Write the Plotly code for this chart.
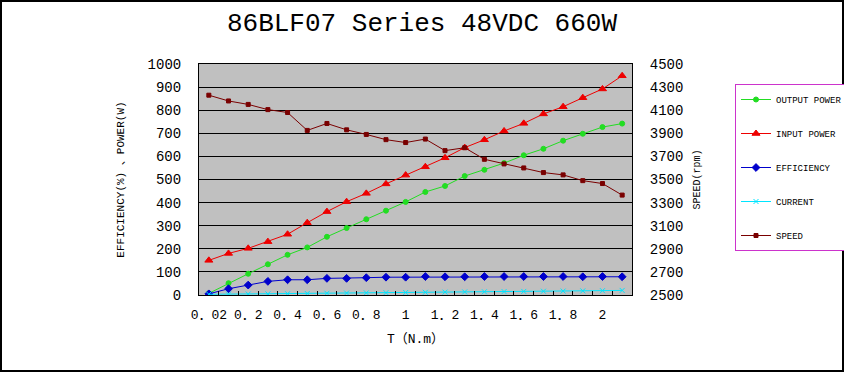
import plotly.graph_objects as go

torque = ["0.02", "0.1", "0.2", "0.3", "0.4", "0.5", "0.6", "0.7", "0.8", "0.9", "1.0",
          "1.1", "1.2", "1.3", "1.4", "1.5", "1.6", "1.7", "1.8", "1.9", "2.0", "2.1"]
tick_text = ["0．02", "", "0．2", "", "0．4", "", "0．6", "", "0．8", "", "1",
             "", "1．2", "", "1．4", "", "1．6", "", "1．8", "", "2", ""]
output_power = [7, 51, 92, 133, 174, 206, 252, 290, 328, 365, 403,
                446, 472, 515, 542, 571, 605, 633, 668, 698, 727, 742]
input_power = [150, 180, 202, 231, 263, 313, 361, 404, 440, 481, 519,
               555, 594, 638, 672, 710, 743, 784, 815, 854, 892, 949]
efficiency = [5, 27, 43, 59, 66, 66, 72, 72, 75, 77, 77,
              80, 79, 79, 80, 80, 80, 80, 80, 79, 80, 79]
current = [3.1, 3.8, 4.2, 4.8, 5.5, 6.5, 7.5, 8.4, 9.2, 10.0, 10.8,
           11.6, 12.4, 13.3, 14.0, 14.8, 15.5, 16.3, 17.0, 17.8, 18.6, 19.8]
speed = [4230, 4180, 4150, 4105, 4080, 3925, 3985, 3930, 3890, 3845, 3820,
         3850, 3750, 3775, 3675, 3635, 3600, 3560, 3540, 3490, 3465, 3365]

MONO = "Liberation Mono, Noto Sans CJK SC, monospace"

fig = go.Figure()
series = [
    ("OUTPUT POWER", output_power, "#22dd22", "circle", 5, "y"),
    ("INPUT POWER", input_power, "#ee0000", "triangle-up", 7, "y"),
    ("EFFICIENCY", efficiency, "#0000cc", "diamond", 6, "y"),
    ("CURRENT", current, "#00e5ff", "x-thin", 5, "y"),
    ("SPEED", speed, "#7a0000", "square", 4, "y2"),
]
for i, (name, vals, col, sym, sz, ax) in enumerate(series):
    fig.add_trace(go.Scatter(
        x=torque, y=vals, name=name, yaxis=ax, mode="lines+markers",
        line=dict(color=col, width=1),
        marker=dict(symbol=sym, size=sz, color=col, line=dict(color=col, width=1)),
        legendgroup=f"g{i}",
    ))

W, H = 844, 372
L, R, T, B = 199, 212, 64, 77
pw, ph = W - L - R, H - T - B

fig.update_layout(
    width=W, height=H,
    margin=dict(l=L, r=R, t=T, b=B, pad=0, autoexpand=False),
    paper_bgcolor="white", plot_bgcolor="#c0c0c0",
    title=dict(text="86BLF07 Series 48VDC 660W", x=0.5, xanchor="center",
               y=1 - 22 / H, yanchor="middle", automargin=False,
               font=dict(family=MONO, size=26, color="black")),
    xaxis=dict(type="category", tickmode="array", tickvals=torque, ticktext=tick_text,
               tickson="boundaries", ticks="inside", ticklen=4, tickcolor="black",
               tickangle=0, automargin=False,
               showgrid=False, showline=True, linecolor="black", linewidth=1,
               mirror=True, range=[-0.5, 21.5], ticklabelstandoff=7,
               tickfont=dict(family=MONO, size=13, color="black"),
               title=dict(text="T（N.m）", standoff=12,
                          font=dict(family=MONO, size=13, color="black"))),
    yaxis=dict(range=[0, 1000], dtick=100, tick0=0, showgrid=True, gridcolor="black",
               gridwidth=1, showline=True, linecolor="black", linewidth=1,
               zeroline=False, ticks="", ticklabelstandoff=14, automargin=False,
               tickfont=dict(family=MONO, size=14, color="black"),
               title=dict(text="EFFICIENCY(%) 、POWER(W)", standoff=20,
                          font=dict(family=MONO, size=11, color="black"))),
    yaxis2=dict(range=[2500, 4500], dtick=200, tick0=2500, overlaying="y", side="right",
                showgrid=False, showline=True, linecolor="black", linewidth=1,
                zeroline=False, ticks="", ticklabelstandoff=14, automargin=False,
                tickfont=dict(family=MONO, size=14, color="black"),
                title=dict(text="SPEED(rpm)", standoff=10,
                           font=dict(family=MONO, size=10, color="black"))),
    legend=dict(x=(735 - L) / pw, y=(H - B - 84) / ph, xanchor="left", yanchor="top",
                bgcolor="white", bordercolor="#cc33cc", borderwidth=1,
                tracegroupgap=15, font=dict(family=MONO, size=9, color="black")),
    showlegend=True,
)

fig.add_shape(type="rect", xref="paper", yref="paper",
              x0=(1 - L) / pw, x1=(W - 1 - L) / pw,
              y0=-(B - 1) / ph, y1=(H - B - 1) / ph,
              line=dict(color="black", width=2), fillcolor="rgba(0,0,0,0)", layer="above")

fig.write_html("out.html", config={"displayModeBar": False},
               post_script="document.body.style.margin='0';document.body.style.padding='0';")
